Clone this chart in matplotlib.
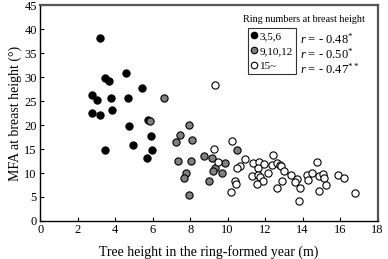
import matplotlib
matplotlib.use('Agg')
import matplotlib.pyplot as plt

plt.rcParams['font.family'] = ['Liberation Serif', 'DejaVu Serif']
plt.rcParams['mathtext.fontset'] = 'custom'
plt.rcParams['mathtext.rm'] = 'Liberation Serif'
plt.rcParams['mathtext.it'] = 'Liberation Serif:italic'

# Ring numbers 3,5,6
h1 = [3.20, 3.45, 3.67, 4.56, 5.41, 2.76, 3.04, 3.76, 4.66, 2.76, 3.17, 3.81,
      4.72, 5.76, 5.91, 4.95, 5.96, 3.45, 5.68]
m1 = [38.3, 29.9, 29.3, 30.8, 27.8, 26.3, 25.3, 25.6, 25.6, 22.6, 22.2, 23.1,
      19.9, 21.0, 17.7, 15.8, 14.9, 14.9, 13.2]

# Ring numbers 9,10,12
h2 = [6.60, 5.87, 7.95, 7.45, 7.26, 8.11, 7.36, 8.06, 8.75, 9.15, 7.76, 7.65,
      9.32, 9.22, 9.00, 7.95, 9.71, 9.87, 10.51]
m2 = [25.6, 20.8, 20.0, 17.9, 16.5, 16.9, 12.5, 12.6, 13.5, 13.2, 10.1, 9.0,
      11.0, 10.4, 8.4, 5.4, 10.1, 12.1, 14.9]

# Ring numbers 15~
h3 = [9.31, 10.25, 9.27, 9.48, 10.92, 10.66, 10.50, 10.39, 10.44, 10.16, 11.37,
      11.65, 11.95, 11.62, 11.31, 11.60, 11.72, 11.90, 11.55, 12.17, 12.42, 12.35,
      12.61, 12.79, 12.85, 13.02, 12.91, 12.61, 13.38, 13.68, 13.59, 13.86, 13.82,
      14.22, 14.27, 14.48, 14.77, 14.89, 15.07, 15.16, 15.26, 14.87, 15.87, 16.22,
      16.78]
m3 = [28.3, 16.7, 15.0, 12.3, 12.9, 11.5, 11.1, 8.3, 7.8, 6.0, 12.0,
      12.4, 11.9, 11.1, 9.4, 9.6, 9.2, 8.3, 7.8, 10.0, 13.7, 11.6,
      12.0, 11.7, 11.4, 10.5, 8.4, 6.8, 9.5, 8.75, 8.1, 6.9, 4.1,
      9.65, 8.5, 10.0, 12.4, 9.45, 9.7, 9.0, 7.4, 6.25, 9.6, 9.0,
      5.9]

labels = ['3,5,6', '9,10,12', '15~']
r_texts = [r'$r$ = - 0.48$^{*}$', r'$r$ = - 0.50$^{*}$', r'$r$ = - 0.47$^{**}$']
colors = ['black', '#808080', 'white']

fig = plt.figure(figsize=(3.88, 2.59), dpi=100)
ax = fig.add_axes([0.104, 0.147, 0.869, 0.832])

for h, m, c, lab in zip([h1, h2, h3], [m1, m2, m3], colors, labels):
    ax.plot(h, m, 'o', ms=5.2, mfc=c, mec='black', mew=0.8, label=lab, ls='none')

ax.set_xlim(0, 18)
ax.set_ylim(0, 45)
ax.set_xticks(range(0, 19, 2))
ax.set_yticks(range(0, 46, 5))
ax.tick_params(direction='in', length=3, width=0.8, labelsize=9, pad=2.5)
for s in ax.spines.values():
    s.set_linewidth(1.0)
ax.spines['top'].set_color('#555555')
ax.spines['right'].set_color('#555555')
ax.spines['top'].set_linewidth(1.6)
ax.spines['right'].set_linewidth(1.6)

ax.set_xlabel('Tree height in the ring-formed year (m)', fontsize=10, labelpad=6)
ax.set_ylabel('MFA at breast height (°)', fontsize=10, labelpad=2)

leg = ax.legend(loc='upper left', bbox_to_anchor=(0.617, 0.895), fontsize=8,
                frameon=True, fancybox=False, edgecolor='black', borderpad=0.3,
                handlelength=0.5, handletextpad=0.2, labelspacing=0.45,
                borderaxespad=0, markerscale=0.9)
leg.get_frame().set_linewidth(0.8)

ax.text(0.783, 0.935, 'Ring numbers at breast height', transform=ax.transAxes,
        fontsize=7.3, ha='center', va='center')
for i, t in enumerate(r_texts):
    ax.text(0.769, 0.842 - i * 0.07, t, transform=ax.transAxes, fontsize=9,
            ha='left', va='center')

fig.savefig('out.png', dpi=100)
